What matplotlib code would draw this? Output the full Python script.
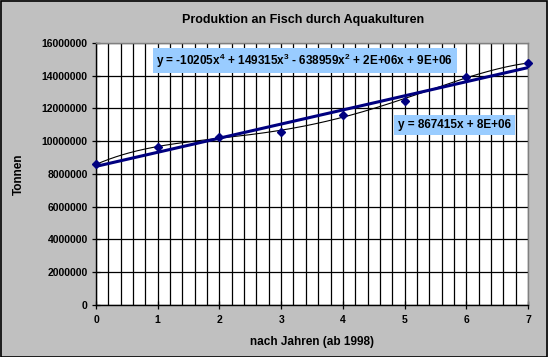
import numpy as np
import matplotlib.pyplot as plt
from matplotlib.patches import Rectangle
from matplotlib.ticker import MultipleLocator

plt.rcParams['font.family'] = ['Liberation Sans', 'DejaVu Sans']
plt.rcParams['font.weight'] = 'bold'
plt.rcParams['mathtext.default'] = 'regular'

# data (years after 1998, tonnes)
years = [0, 1, 2, 3, 4, 5, 6, 7]
tonnes = [8590000, 9650000, 10240000, 10580000, 11600000, 12480000, 13940000, 14760000]

title = "Produktion an Fisch durch Aquakulturen"
xlabel = "nach Jahren (ab 1998)"
ylabel = "Tonnen"
eq_poly = "y = -10205x$^4$ + 149315x$^3$ - 638959x$^2$ + 2E+06x + 9E+06"
eq_lin = "y = 867415x + 8E+06"

NAVY = "#000080"
GREY = "#C0C0C0"
BOXBLUE = "#99CCFF"

fig = plt.figure(figsize=(5.48, 3.57), dpi=100, facecolor=GREY)
fig.patches.append(Rectangle((0.001, 0.001), 0.997, 0.996, transform=fig.transFigure,
                             fill=False, ec="black", lw=1.2))
ax = fig.add_axes([0.1752, 0.1457, 0.7883, 0.7339])
ax.set_facecolor("white")

x = np.array(years, dtype=float)
y = np.array(tonnes, dtype=float)

# trendlines fitted from the data
xs = np.linspace(0, 7, 200)
p4 = np.polyfit(x, y, 4)
p1 = np.polyfit(x, y, 1)
ax.plot(xs, np.polyval(p4, xs), color="black", lw=0.8, zorder=3)
ax.plot(xs, np.polyval(p1, xs), color=NAVY, lw=2.2, zorder=4)
ax.plot(x, y, 'D', color=NAVY, ms=4, zorder=5, clip_on=False)

ax.set_xlim(0, 7)
ax.set_ylim(0, 16000000)
ax.xaxis.set_major_locator(MultipleLocator(1))
ax.xaxis.set_minor_locator(MultipleLocator(0.2))
ax.yaxis.set_major_locator(MultipleLocator(2000000))
ax.grid(True, which='both', axis='x', color='black', lw=0.9)
ax.grid(True, which='major', axis='y', color='black', lw=0.9)
ax.set_axisbelow(True)
ax.tick_params(which='major', direction='inout', length=6, width=0.9, labelsize=7.5, pad=4)
ax.tick_params(axis='y', pad=3)
ax.tick_params(which='minor', length=0)
ax.ticklabel_format(style='plain', axis='y')
for lbl in ax.get_xticklabels() + ax.get_yticklabels():
    lbl.set_fontweight('bold')

ax.spines['left'].set_color('black')
ax.spines['bottom'].set_color('black')
ax.spines['top'].set_color('#808080')
ax.spines['right'].set_color('#808080')
for s in ax.spines.values():
    s.set_linewidth(1.0)

fig.text(0.553, 0.943, title, ha='center', va='center', fontsize=9, fontweight='bold')
ax.set_xlabel(xlabel, fontsize=8.5, fontweight='bold', labelpad=8)
ax.set_ylabel(ylabel, fontsize=8.5, fontweight='bold', labelpad=12)

ax.text(0.140, 0.933, eq_poly, transform=ax.transAxes, ha='left', va='center',
        fontsize=8.5, fontweight='bold',
        bbox=dict(boxstyle='square,pad=0.3', fc=BOXBLUE, ec='none'), zorder=6)
ax.text(0.699, 0.687, eq_lin, transform=ax.transAxes, ha='left', va='center',
        fontsize=8.5, fontweight='bold',
        bbox=dict(boxstyle='square,pad=0.3', fc=BOXBLUE, ec='none'), zorder=6)

fig.savefig("out.png", dpi=100, facecolor=GREY)
